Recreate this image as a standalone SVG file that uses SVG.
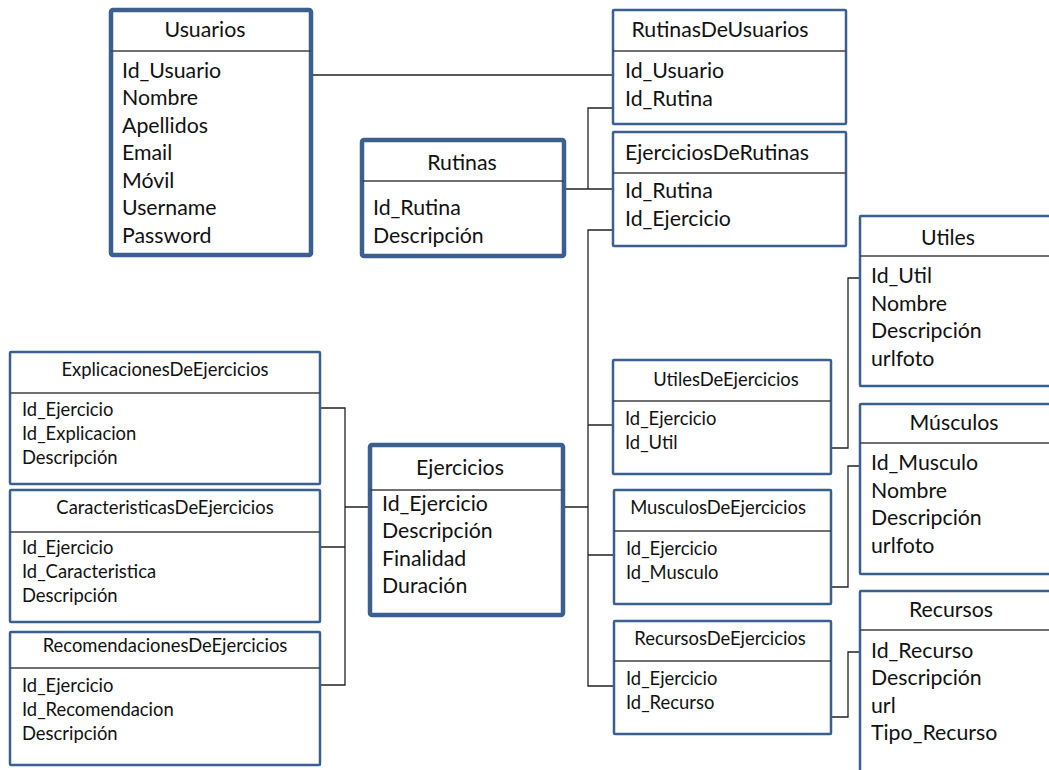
<svg xmlns="http://www.w3.org/2000/svg" width="1049" height="770" viewBox="0 0 1049 770">
<style>
  .box { fill: #ffffff; stroke: #3b5f8e; stroke-width: 2.5; }
  .thick { fill: #ffffff; stroke: #3b5f8e; stroke-width: 4.5; }
  .sep { stroke: #404040; stroke-width: 1.5; }
  .t { font-family: Lato, "Noto Sans", "Liberation Sans", sans-serif; fill: #111111; }
  .big { font-size: 21.3px; }
  .small { font-size: 18.4px; }
  .mid { text-anchor: middle; }
  .conn { fill: none; stroke: #222222; stroke-width: 1.3; }
</style>
<rect width="1049" height="770" fill="#ffffff"/>

<g id="connectors">
  <path class="conn" d="M312 75 H613"/>
  <path class="conn" d="M564 189 H613 M588 189 V108 H613"/>
  <path class="conn" d="M613 230 H588 V686 H614 M588 425 H613 M563 507 H588 M588 555 H614"/>
  <path class="conn" d="M831 448 H848 V278 H860"/>
  <path class="conn" d="M831 587 H848 V466 H860"/>
  <path class="conn" d="M831 717 H848 V652 H860"/>
  <path class="conn" d="M320 408 H345 V685 H320 M320 547 H345 M345 507 H369"/>
</g>

<g id="usuarios">
  <rect class="thick" x="111" y="10" width="200" height="245" rx="2"/>
  <line class="sep" x1="111" y1="51" x2="311" y2="51"/>
  <text class="t big mid" x="205" y="37">Usuarios</text>
  <text class="t big" x="122" y="78">Id_Usuario</text>
  <text class="t big" x="122" y="105">Nombre</text>
  <text class="t big" x="122" y="133">Apellidos</text>
  <text class="t big" x="122" y="160">Email</text>
  <text class="t big" x="122" y="188">Móvil</text>
  <text class="t big" x="122" y="215">Username</text>
  <text class="t big" x="122" y="243">Password</text>
</g>

<g id="rutinasdeusuarios">
  <rect class="box" x="613" y="10" width="233" height="114" rx="1"/>
  <line class="sep" x1="613" y1="51" x2="846" y2="51"/>
  <text class="t big mid" x="720" y="37">RutinasDeUsuarios</text>
  <text class="t big" x="625" y="78">Id_Usuario</text>
  <text class="t big" x="625" y="106">Id_Rutina</text>
</g>

<g id="rutinas">
  <rect class="thick" x="362" y="140" width="202" height="116" rx="2"/>
  <line class="sep" x1="362" y1="181" x2="564" y2="181"/>
  <text class="t big mid" x="462" y="170">Rutinas</text>
  <text class="t big" x="373" y="215">Id_Rutina</text>
  <text class="t big" x="373" y="243">Descripción</text>
</g>

<g id="ejerciciosderutinas">
  <rect class="box" x="613" y="132" width="233" height="114" rx="1"/>
  <line class="sep" x1="613" y1="173" x2="846" y2="173"/>
  <text class="t big mid" x="717" y="160">EjerciciosDeRutinas</text>
  <text class="t big" x="625" y="198">Id_Rutina</text>
  <text class="t big" x="625" y="226">Id_Ejercicio</text>
</g>

<g id="utiles">
  <rect class="box" x="860" y="216" width="200" height="170" rx="1"/>
  <line class="sep" x1="860" y1="256" x2="1049" y2="256"/>
  <text class="t big mid" x="948" y="245">Utiles</text>
  <text class="t big" x="871" y="283">Id_Util</text>
  <text class="t big" x="871" y="311">Nombre</text>
  <text class="t big" x="871" y="338">Descripción</text>
  <text class="t big" x="871" y="366">urlfoto</text>
</g>

<g id="musculos">
  <rect class="box" x="860" y="404" width="200" height="170" rx="1"/>
  <line class="sep" x1="860" y1="443" x2="1049" y2="443"/>
  <text class="t big mid" x="954" y="430">Músculos</text>
  <text class="t big" x="871" y="470">Id_Musculo</text>
  <text class="t big" x="871" y="498">Nombre</text>
  <text class="t big" x="871" y="525">Descripción</text>
  <text class="t big" x="871" y="553">urlfoto</text>
</g>

<g id="recursos">
  <rect class="box" x="860" y="591" width="200" height="200" rx="1"/>
  <line class="sep" x1="860" y1="630" x2="1049" y2="630"/>
  <text class="t big mid" x="951" y="617">Recursos</text>
  <text class="t big" x="871" y="658">Id_Recurso</text>
  <text class="t big" x="871" y="685">Descripción</text>
  <text class="t big" x="871" y="713">url</text>
  <text class="t big" x="871" y="740">Tipo_Recurso</text>
</g>

<g id="utilesdeejercicios">
  <rect class="box" x="613" y="360" width="218" height="114" rx="1"/>
  <line class="sep" x1="613" y1="401" x2="831" y2="401"/>
  <text class="t small mid" x="726" y="386">UtilesDeEjercicios</text>
  <text class="t small" x="625" y="425">Id_Ejercicio</text>
  <text class="t small" x="625" y="449">Id_Util</text>
</g>

<g id="musculosdeejercicios">
  <rect class="box" x="614" y="490" width="217" height="114" rx="1"/>
  <line class="sep" x1="614" y1="531" x2="831" y2="531"/>
  <text class="t small mid" x="718" y="514">MusculosDeEjercicios</text>
  <text class="t small" x="626" y="555">Id_Ejercicio</text>
  <text class="t small" x="626" y="579">Id_Musculo</text>
</g>

<g id="recursosdeejercicios">
  <rect class="box" x="614" y="621" width="217" height="113" rx="1"/>
  <line class="sep" x1="614" y1="661" x2="831" y2="661"/>
  <text class="t small mid" x="720" y="645">RecursosDeEjercicios</text>
  <text class="t small" x="626" y="685">Id_Ejercicio</text>
  <text class="t small" x="626" y="709">Id_Recurso</text>
</g>

<g id="ejercicios">
  <rect class="thick" x="370" y="445" width="193" height="170" rx="2"/>
  <line class="sep" x1="370" y1="490" x2="563" y2="490"/>
  <text class="t big mid" x="460" y="475">Ejercicios</text>
  <text class="t big" x="382" y="511">Id_Ejercicio</text>
  <text class="t big" x="382" y="538">Descripción</text>
  <text class="t big" x="382" y="566">Finalidad</text>
  <text class="t big" x="382" y="593">Duración</text>
</g>

<g id="explicacionesdeejercicios">
  <rect class="box" x="10" y="352" width="310" height="132" rx="1"/>
  <line class="sep" x1="10" y1="393" x2="320" y2="393"/>
  <text class="t small mid" x="165" y="376">ExplicacionesDeEjercicios</text>
  <text class="t small" x="22" y="416">Id_Ejercicio</text>
  <text class="t small" x="22" y="440">Id_Explicacion</text>
  <text class="t small" x="22" y="464">Descripción</text>
</g>

<g id="caracteristicasdeejercicios">
  <rect class="box" x="10" y="490" width="310" height="132" rx="1"/>
  <line class="sep" x1="10" y1="532" x2="320" y2="532"/>
  <text class="t small mid" x="165" y="514">CaracteristicasDeEjercicios</text>
  <text class="t small" x="22" y="554">Id_Ejercicio</text>
  <text class="t small" x="22" y="578">Id_Caracteristica</text>
  <text class="t small" x="22" y="602">Descripción</text>
</g>

<g id="recomendacionesdeejercicios">
  <rect class="box" x="10" y="632" width="310" height="133" rx="1"/>
  <line class="sep" x1="10" y1="668" x2="320" y2="668"/>
  <text class="t small mid" x="165" y="652">RecomendacionesDeEjercicios</text>
  <text class="t small" x="22" y="692">Id_Ejercicio</text>
  <text class="t small" x="22" y="716">Id_Recomendacion</text>
  <text class="t small" x="22" y="740">Descripción</text>
</g>
</svg>
